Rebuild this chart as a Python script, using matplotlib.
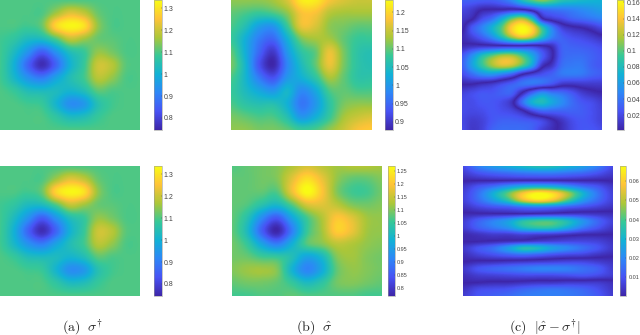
import numpy as np
import matplotlib
matplotlib.use('Agg')
import matplotlib.pyplot as plt
from matplotlib.colors import LinearSegmentedColormap, Normalize
from matplotlib.cm import ScalarMappable

W, H = 640, 335

plt.rcParams['mathtext.fontset'] = 'cm'
plt.rcParams['font.family'] = ['Liberation Sans', 'DejaVu Sans']

# colours of the colour bar, low to high
parula = [(0.2422, 0.1504, 0.6603), (0.2810, 0.3228, 0.9579), (0.1786, 0.5289, 0.9682),
          (0.0689, 0.6948, 0.8394), (0.2161, 0.7843, 0.5923), (0.6720, 0.7793, 0.2227),
          (0.9970, 0.7659, 0.2199), (0.9769, 0.9839, 0.0805)]

# values, coarse grid, top row first
sigma_true = [
    [1.10, 1.10, 1.10, 1.10, 1.10, 1.10, 1.10, 1.10, 1.10, 1.10, 1.10],
    [1.10, 1.10, 1.10, 1.10, 1.16, 1.22, 1.19, 1.12, 1.10, 1.10, 1.10],
    [1.10, 1.10, 1.09, 1.12, 1.28, 1.33, 1.30, 1.15, 1.10, 1.10, 1.10],
    [1.09, 1.07, 1.03, 1.03, 1.10, 1.19, 1.16, 1.12, 1.11, 1.10, 1.10],
    [1.09, 1.03, 0.94, 0.85, 0.94, 1.04, 1.08, 1.15, 1.13, 1.10, 1.10],
    [1.09, 1.00, 0.86, 0.76, 0.86, 1.00, 1.08, 1.20, 1.18, 1.11, 1.10],
    [1.09, 1.02, 0.94, 0.90, 0.97, 1.04, 1.09, 1.18, 1.15, 1.10, 1.10],
    [1.10, 1.08, 1.04, 1.03, 1.03, 1.01, 1.04, 1.11, 1.10, 1.10, 1.10],
    [1.10, 1.10, 1.09, 1.08, 1.01, 0.93, 0.95, 1.05, 1.09, 1.10, 1.10],
    [1.10, 1.10, 1.10, 1.10, 1.07, 1.03, 1.04, 1.08, 1.10, 1.10, 1.10],
    [1.10, 1.10, 1.10, 1.10, 1.10, 1.10, 1.10, 1.10, 1.10, 1.10, 1.10],
]
sigma_hat_top = [
    [1.12, 1.12, 1.12, 1.13, 1.16, 1.22, 1.22, 1.18, 1.16, 1.15, 1.15],
    [1.10, 1.09, 1.08, 1.09, 1.12, 1.18, 1.18, 1.14, 1.13, 1.13, 1.13],
    [1.09, 1.06, 1.01, 1.00, 1.08, 1.17, 1.16, 1.12, 1.11, 1.10, 1.10],
    [1.08, 1.03, 0.97, 0.95, 1.03, 1.11, 1.13, 1.13, 1.10, 1.08, 1.08],
    [1.10, 1.03, 0.95, 0.90, 1.00, 1.07, 1.10, 1.17, 1.11, 1.07, 1.06],
    [1.11, 1.04, 0.93, 0.88, 0.98, 1.05, 1.10, 1.17, 1.11, 1.07, 1.06],
    [1.09, 1.04, 0.97, 0.93, 1.00, 1.03, 1.07, 1.13, 1.10, 1.07, 1.07],
    [1.08, 1.05, 1.02, 1.00, 1.04, 0.985, 1.02, 1.09, 1.10, 1.09, 1.09],
    [1.09, 1.07, 1.06, 1.06, 1.03, 0.965, 1.00, 1.07, 1.11, 1.12, 1.12],
    [1.11, 1.10, 1.09, 1.09, 1.06, 1.00, 1.03, 1.08, 1.13, 1.15, 1.16],
    [1.12, 1.12, 1.11, 1.11, 1.10, 1.08, 1.09, 1.12, 1.15, 1.18, 1.19],
]
sigma_hat_bot = [
    [1.07, 1.08, 1.09, 1.10, 1.13, 1.16, 1.14, 1.12, 1.13, 1.13, 1.12],
    [1.08, 1.08, 1.09, 1.10, 1.17, 1.23, 1.18, 1.11, 1.08, 1.08, 1.10],
    [1.08, 1.08, 1.08, 1.07, 1.18, 1.27, 1.20, 1.10, 1.06, 1.06, 1.09],
    [1.08, 1.07, 1.03, 1.00, 1.07, 1.16, 1.17, 1.14, 1.10, 1.09, 1.10],
    [1.08, 1.03, 0.92, 0.85, 0.96, 1.06, 1.13, 1.20, 1.17, 1.12, 1.11],
    [1.08, 1.01, 0.86, 0.77, 0.90, 1.05, 1.12, 1.21, 1.18, 1.12, 1.11],
    [1.09, 1.05, 0.96, 0.90, 0.98, 1.07, 1.10, 1.14, 1.13, 1.11, 1.10],
    [1.09, 1.085, 1.06, 1.05, 1.02, 0.96, 1.00, 1.10, 1.12, 1.10, 1.09],
    [1.10, 1.115, 1.12, 1.10, 0.99, 0.91, 0.97, 1.08, 1.11, 1.10, 1.09],
    [1.08, 1.09, 1.09, 1.08, 1.05, 1.01, 1.04, 1.09, 1.10, 1.09, 1.08],
    [1.06, 1.06, 1.07, 1.07, 1.08, 1.07, 1.07, 1.07, 1.07, 1.06, 1.06],
]
# errors in thousandths, with a sign so the dark valleys stay sharp (bar shows the size)
error_top = [
    [30, 30, 28, 28, 35, 50, 80, 100, 110, 100, 85, 80, 75, 72, 70],
    [18, 12, 2, 0, 0, -2, 2, 15, 35, 40, 42, 45, 50, 55, 60],
    [10, 2, -20, -35, -65, -100, -115, -80, -5, 12, 20, 30, 35, 40, 45],
    [4, -25, -45, -70, -100, -145, -163, -145, -90, -45, -15, -5, 0, 8, 18],
    [-3, -15, -30, -50, -80, -115, -135, -120, -80, -45, -30, -22, -18, -12, -5],
    [4, 8, 10, 10, 10, 10, 10, 12, 5, -5, -30, -30, -28, -25, -20],
    [25, 50, 80, 100, 115, 115, 95, 65, 30, 3, -30, -35, -35, -30, -25],
    [30, 60, 90, 115, 130, 125, 100, 65, 10, -8, -35, -40, -40, -30, -25],
    [20, 35, 50, 55, 45, 30, 3, -12, -22, -30, -40, -42, -40, -32, -28],
    [2, 2, -3, -8, -18, -28, -38, -40, -35, -25, -12, -10, -12, -12, -12],
    [-15, -20, -25, -25, -30, -30, 0, 30, 50, 40, 35, 25, 12, 5, 1],
    [-20, -20, -25, -25, -20, -6, 35, 70, 80, 65, 50, 35, 25, 20, 12],
    [-20, -18, -20, -25, -22, -18, -6, 15, 30, 30, 30, 30, 28, 22, 15],
    [-18, -12, -15, -25, -30, -30, -28, -25, -18, -4, 8, 20, 25, 22, 15],
    [-20, -10, -15, -30, -35, -35, -35, -30, -15, -5, 5, 18, 25, 25, 20],
]
error_bot = [
    [8, 18, 24, 28, 32, 35, 34, 30, 25, 18, 8],
    [5, 10, 13, 15, 17, 18, 18, 16, 14, 10, 5],
    [1, 1.5, 2, 2, 2, 2, 2, 2, 1.5, 1, 1],
    [-4, -10, -15, -22, -28, -30, -28, -22, -15, -10, -4],
    [-6, -15, -28, -42, -58, -67, -62, -48, -30, -16, -6],
    [-6, -14, -24, -36, -54, -62, -56, -40, -24, -14, -6],
    [-3, -7, -10, -12, -16, -18, -16, -12, -9, -6, -3],
    [1, 1, 1, 1, 1, 2, 3, 4, 4, 3, 2],
    [5, 12, 18, 24, 34, 38, 38, 32, 22, 13, 6],
    [5, 12, 17, 22, 32, 36, 35, 27, 17, 10, 4],
    [1, 3, 5, 5, 7, 6, 5, 3, 1, 0.5, 0],
    [0.2, 0, -1, -2, -3, -5, -6, -7, -7, -6, -3],
    [-4, -10, -15, -24, -34, -32, -25, -20, -15, -10, -4],
    [-2, -6, -9, -12, -14, -12, -9, -7, -6, -3, -1],
    [0, 1.5, 2, 3, 4, 5, 6, 7, 7, 5, 3],
    [4, 10, 13, 15, 17, 19, 19, 18, 15, 12, 5],
    [2, 5, 6, 7, 8, 8, 8, 9, 10, 8, 5],
    [0.3, 0, -1, -1, -2, -3, -3, -4, -4, -4, -2],
    [-3, -8, -9, -10, -13, -15, -16, -15, -13, -9, -4],
    [-5, -10, -12, -14, -17, -18, -18, -17, -15, -11, -5],
]

ticks_a = [0.8, 0.9, 1, 1.1, 1.2, 1.3]
ticks_b_top = [0.9, 0.95, 1, 1.05, 1.1, 1.15, 1.2]
ticks_b_bot = [0.8, 0.85, 0.9, 0.95, 1, 1.05, 1.1, 1.15, 1.2, 1.25]
ticks_c_top = [0.02, 0.04, 0.06, 0.08, 0.1, 0.12, 0.14, 0.16]
ticks_c_bot = [0.01, 0.02, 0.03, 0.04, 0.05, 0.06]
captions = [r'$\mathrm{(a)}\ \ \sigma^{\dagger}$', r'$\mathrm{(b)}\ \ \hat{\sigma}$',
            r'$\mathrm{(c)}\ \ |\hat{\sigma}-\sigma^{\dagger}|$']

cmap = LinearSegmentedColormap.from_list('parula', parula, N=256)
cmap_signed = LinearSegmentedColormap.from_list('parula_signed', parula[::-1] + parula[1:], N=512)

fig = plt.figure(figsize=(W / 100, H / 100), dpi=100)


def px_axes(x0, x1, y0, y1):
    return fig.add_axes([x0 / W, 1 - y1 / H, (x1 - x0) / W, (y1 - y0) / H])


def panel(box, cbar, grid, vmin, vmax, ticks, size=5, signed=False):
    z = np.array(grid, dtype=float)
    ny, nx = z.shape
    ax = px_axes(*box)
    # catrom goes through the grid values, so the peaks keep their height
    if signed:
        ax.imshow(z, cmap=cmap_signed, vmin=-vmax, vmax=vmax, interpolation='catrom',
                  interpolation_stage='data', aspect='auto')
    else:
        ax.imshow(z, cmap=cmap, vmin=vmin, vmax=vmax, interpolation='catrom',
                  interpolation_stage='data', aspect='auto')
    ax.set_xlim(0, nx - 1)
    ax.set_ylim(ny - 1, 0)
    ax.axis('off')

    cax = px_axes(*cbar)
    cb = fig.colorbar(ScalarMappable(Normalize(vmin, vmax), cmap), cax=cax)
    cb.set_ticks(ticks)
    cb.set_ticklabels(['%g' % t for t in ticks])
    cb.ax.tick_params(labelsize=size, length=1, width=0.3, pad=1.5, colors='#444444', direction='in')
    cb.outline.set_linewidth(0.4)
    cb.outline.set_edgecolor('#999999')


panel((0, 140, 0, 130), (154, 161.5, 0, 130), sigma_true, 0.745, 1.338, ticks_a)
panel((230.7, 371, 0, 130), (385, 393, 0, 130), sigma_hat_top, 0.878, 1.234, ticks_b_top)
panel((462, 602, 0, 130), (616.7, 624.3, 0, 130), np.array(error_top) * 0.001, 0.0015, 0.163,
      ticks_c_top, signed=True)
panel((0, 140, 166, 296), (154, 161.5, 166, 296), sigma_true, 0.745, 1.338, ticks_a)
panel((232, 381.7, 166, 296), (388, 394.7, 166, 296), sigma_hat_bot, 0.769, 1.268, ticks_b_bot, size=4)
panel((463.3, 612.7, 166, 296), (619.7, 626.3, 166, 296), np.array(error_bot) * 0.001, 0.0003, 0.0678,
      ticks_c_bot, size=4, signed=True)

for x, s in zip([82, 314, 545], captions):
    fig.text(x / W, 1 - 327 / H, s, ha='center', va='center', fontsize=10, color='#222222')

fig.savefig('out.png', dpi=100)
